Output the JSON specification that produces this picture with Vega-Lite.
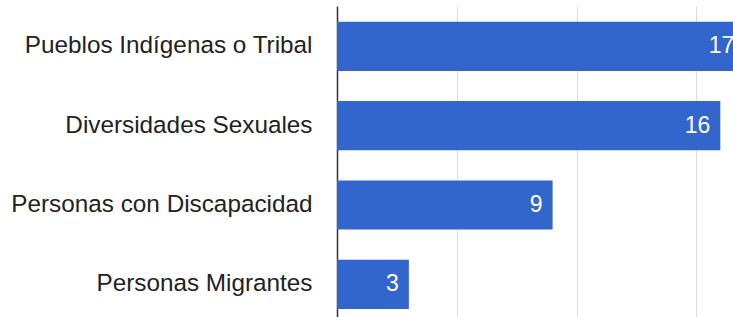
{
  "$schema": "https://vega.github.io/schema/vega-lite/v6.json",
  "autosize": {"type": "none"},
  "padding": {"left": 337, "top": 6, "right": 0, "bottom": 0},
  "width": 396,
  "height": 311,
  "background": "white",
  "config": {"view": {"stroke": null}},
  "data": {"values": [
    {"grupo": "Pueblos Indígenas o Tribal", "valor": 17},
    {"grupo": "Diversidades Sexuales", "valor": 16},
    {"grupo": "Personas con Discapacidad", "valor": 9},
    {"grupo": "Personas Migrantes", "valor": 3}
  ]},
  "encoding": {
    "y": {
      "field": "grupo", "type": "nominal", "sort": null,
      "scale": {"paddingInner": 0.38, "paddingOuter": 0.15, "align": 0.66},
      "axis": {
        "title": null, "ticks": false, "labelPadding": 25,
        "labelFont": "Liberation Sans", "labelFontSize": 24.3, "labelColor": "#222222",
        "domainColor": "#333333", "domainWidth": 1.5, "labelLimit": 400
      }
    },
    "x": {
      "field": "valor", "type": "quantitative",
      "scale": {"domain": [0, 16.53], "nice": false, "zero": true},
      "axis": {
        "title": null, "labels": false, "ticks": false, "domain": false,
        "values": [5, 10, 15], "grid": true, "gridColor": "#dddddd", "gridWidth": 1
      }
    }
  },
  "layer": [
    {"mark": {"type": "bar", "color": "#3366cc", "clip": true}},
    {
      "mark": {"type": "text", "align": "right", "baseline": "middle", "dx": -10, "color": "white",
               "font": "Liberation Sans", "fontSize": 23, "clip": true},
      "encoding": {"text": {"field": "valor", "type": "quantitative"}}
    }
  ]
}
